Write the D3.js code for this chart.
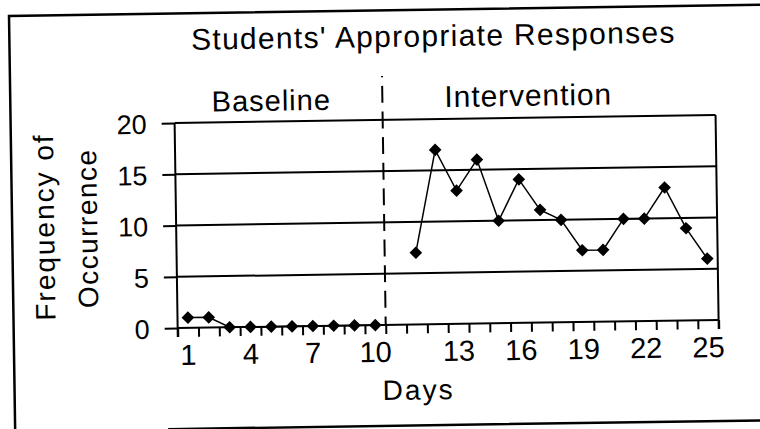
<!DOCTYPE html>
<html>
<head>
<meta charset="utf-8">
<script src="https://cdn.jsdelivr.net/npm/d3@7"></script>
<style>
  body { margin: 0; background: #fff; }
  svg { display: block; }
  text { font-family: "Liberation Sans", Arial, sans-serif; fill: #000; }
</style>
</head>
<body>
<div id="chart"></div>
<script>
// values
const baselineDays = [1, 2, 3, 4, 5, 6, 7, 8, 9, 10];
const baselineValues = [1, 1, 0, 0, 0, 0, 0, 0, 0, 0];
const interventionDays = [11, 12, 13, 14, 15, 16, 17, 18, 19, 20, 21, 22, 23, 24, 25];
const interventionValues = [7, 17, 13, 16, 10, 14, 11, 10, 7, 7, 10, 10, 13, 9, 6];
const yTicks = [0, 5, 10, 15, 20];
const xTickLabels = [1, 4, 7, 10, 13, 16, 19, 22, 25];

function drawChart() {
    const svg = d3.select("#chart")
        .append("svg")
        .attr("width", 760)
        .attr("height", 429);

    // the scan is slightly tilted
    const g = svg.append("g")
        .attr("transform", "rotate(-0.85,380,215)");

    // outer frame (left, top, bottom)
    g.append("path")
        .attr("d", "M12,440V10.5H790M165,426H790")
        .attr("fill", "none")
        .attr("stroke", "#000")
        .attr("stroke-width", 2.5);

    // excel style category axis with an empty slot between phases
    const slots = baselineDays.map(String).concat([" "], interventionDays.map(String));
    const x = d3.scaleBand()
        .domain(slots)
        .range([176, 717])
        .padding(0);
    const bw = x.bandwidth();
    const xc = d => x(String(d)) + bw / 2;

    const y = d3.scaleLinear()
        .domain([0, 20])
        .range([325, 120]);

    // horizontal gridlines
    g.selectAll(".grid")
        .data(yTicks)
        .enter()
        .append("line")
        .attr("x1", 176)
        .attr("x2", 717)
        .attr("y1", d => y(d))
        .attr("y2", d => y(d))
        .attr("stroke", "#000")
        .attr("stroke-width", 2);

    // right border of plot
    g.append("line")
        .attr("x1", 717).attr("x2", 717)
        .attr("y1", y(20)).attr("y2", y(0) + 9)
        .attr("stroke", "#000")
        .attr("stroke-width", 2);

    // y axis
    const yAxis = g.append("g")
        .attr("transform", "translate(176,0)")
        .call(d3.axisLeft(y).tickValues(yTicks).tickSize(13).tickPadding(15));
    yAxis.select(".domain").remove();
    yAxis.selectAll("line").attr("stroke", "#000").attr("stroke-width", 2);
    yAxis.append("line")
        .attr("y1", y(20)).attr("y2", y(0) + 9)
        .attr("stroke", "#000")
        .attr("stroke-width", 2);
    yAxis.selectAll("text")
        .style("font-size", "27px")
        .attr("dy", "0.36em");

    // x ticks at category boundaries
    const bounds = d3.scaleLinear().domain([0, slots.length]).range([176, 717]);
    const xAxis = g.append("g")
        .attr("transform", "translate(0," + y(0) + ")")
        .call(d3.axisBottom(bounds).tickValues(d3.range(0, slots.length + 1)).tickSize(9).tickFormat(""));
    xAxis.select(".domain").remove();
    xAxis.selectAll("line").attr("stroke", "#000").attr("stroke-width", 2);

    g.selectAll(".xlab")
        .data(xTickLabels)
        .enter()
        .append("text")
        .attr("class", "xlab")
        .attr("x", d => xc(d))
        .attr("y", 362)
        .attr("text-anchor", "middle")
        .style("font-size", "29px")
        .text(d => d);

    // phase change line
    const gy = (y(0) - y(20)) / 8;
    g.append("line")
        .attr("x1", x(" ")).attr("x2", x(" "))
        .attr("y1", 76)
        .attr("y2", y(0))
        .attr("stroke", "#000")
        .attr("stroke-width", 2)
        .attr("stroke-dasharray", (gy * 0.66) + "," + (gy * 0.34))
        .attr("stroke-dashoffset", gy - ((y(20) - 76 - gy * 0.33) % gy));

    const line = d3.line()
        .x(d => xc(d[0]))
        .y(d => y(d[1]));

    const phases = [d3.zip(baselineDays, baselineValues), d3.zip(interventionDays, interventionValues)];

    g.selectAll(".series")
        .data(phases)
        .enter()
        .append("path")
        .attr("d", line)
        .attr("fill", "none")
        .attr("stroke", "#000")
        .attr("stroke-width", 1.5);

    const diamond = d3.symbol().type(d3.symbolSquare).size(80);
    g.selectAll(".dot")
        .data(phases.flat())
        .enter()
        .append("path")
        .attr("d", diamond)
        .attr("transform", d => "translate(" + xc(d[0]) + "," + y(d[1]) + ")rotate(45)")
        .attr("fill", "#000");

    // texts
    g.append("text")
        .attr("x", 436).attr("y", 47)
        .attr("text-anchor", "middle")
        .style("font-size", "30px")
        .style("letter-spacing", "1.3px")
        .text("Students' Appropriate Responses");

    g.append("text")
        .attr("x", 273).attr("y", 109)
        .attr("text-anchor", "middle")
        .style("font-size", "29px")
        .style("letter-spacing", "1px")
        .text("Baseline");

    g.append("text")
        .attr("x", 530).attr("y", 108)
        .attr("text-anchor", "middle")
        .style("font-size", "30px")
        .style("letter-spacing", "0.9px")
        .text("Intervention");

    g.append("text")
        .attr("transform", "translate(54,222)rotate(-90)")
        .attr("text-anchor", "middle")
        .style("font-size", "28px")
        .style("letter-spacing", "2px")
        .text("Frequency of");

    g.append("text")
        .attr("transform", "translate(97,224)rotate(-90)")
        .attr("text-anchor", "middle")
        .style("font-size", "28px")
        .style("letter-spacing", "1.5px")
        .text("Occurrence");

    g.append("text")
        .attr("x", 416).attr("y", 400)
        .attr("text-anchor", "middle")
        .style("font-size", "28px")
        .style("letter-spacing", "2px")
        .text("Days");
}

drawChart();
</script>
</body>
</html>
